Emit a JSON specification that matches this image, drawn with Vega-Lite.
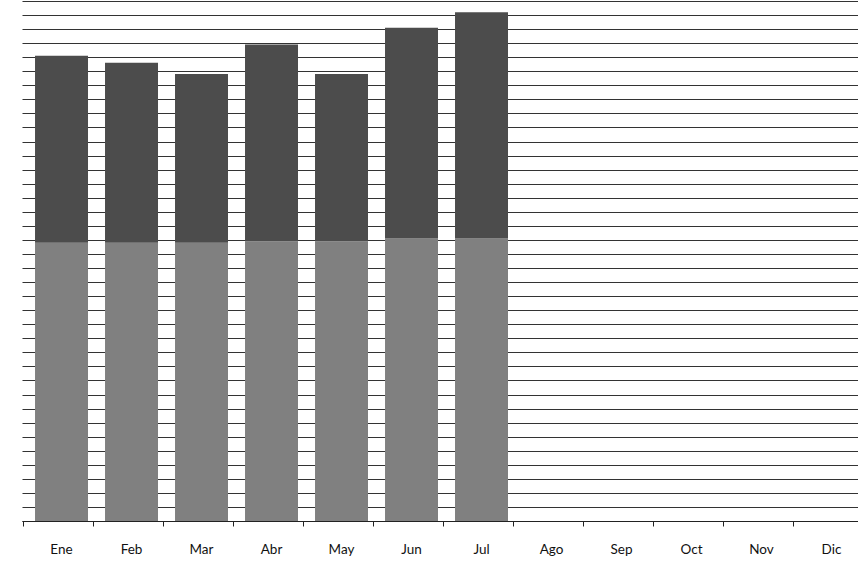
{
  "$schema": "https://vega.github.io/schema/vega-lite/v6.json",
  "width": 836,
  "height": 520,
  "padding": {"left": 22, "top": 1, "right": 0, "bottom": 0},
  "background": "white",
  "data": {
    "values": [
      {"mes": "Ene", "parte": "base", "valor": 19.8},
      {"mes": "Ene", "parte": "extra", "valor": 13.3},
      {"mes": "Feb", "parte": "base", "valor": 19.8},
      {"mes": "Feb", "parte": "extra", "valor": 12.8},
      {"mes": "Mar", "parte": "base", "valor": 19.8},
      {"mes": "Mar", "parte": "extra", "valor": 12.0},
      {"mes": "Abr", "parte": "base", "valor": 19.9},
      {"mes": "Abr", "parte": "extra", "valor": 14.0},
      {"mes": "May", "parte": "base", "valor": 19.9},
      {"mes": "May", "parte": "extra", "valor": 11.9},
      {"mes": "Jun", "parte": "base", "valor": 20.1},
      {"mes": "Jun", "parte": "extra", "valor": 15.0},
      {"mes": "Jul", "parte": "base", "valor": 20.1},
      {"mes": "Jul", "parte": "extra", "valor": 16.1}
    ]
  },
  "mark": {"type": "bar"},
  "encoding": {
    "x": {
      "field": "mes",
      "type": "nominal",
      "sort": null,
      "scale": {
        "domain": ["Ene", "Feb", "Mar", "Abr", "May", "Jun", "Jul", "Ago", "Sep", "Oct", "Nov", "Dic"],
        "paddingInner": 0.243,
        "paddingOuter": 0.093,
        "align": 1
      },
      "axis": {
        "title": null,
        "labelAngle": 0,
        "bandPosition": -0.217,
        "tickSize": 5,
        "tickColor": "#222",
        "domainColor": "#222",
        "domainWidth": 1.2,
        "labelPadding": 16,
        "labelFont": "Lato",
        "labelFontSize": 13.5,
        "labelColor": "#111111",
        "labelAlign": "center",
        "grid": false
      }
    },
    "y": {
      "field": "valor",
      "type": "quantitative",
      "aggregate": "sum",
      "stack": "zero",
      "scale": {"domain": [0, 37], "nice": false},
      "axis": {
        "title": null,
        "labels": false,
        "ticks": false,
        "domain": false,
        "tickCount": 37,
        "grid": true,
        "gridColor": "#333333",
        "gridWidth": 1.1
      }
    },
    "color": {
      "field": "parte",
      "type": "nominal",
      "scale": {"domain": ["base", "extra"], "range": ["#808080", "#4c4c4c"]},
      "legend": null
    },
    "order": {"field": "parte", "sort": "ascending"}
  },
  "config": {"view": {"stroke": null}}
}
